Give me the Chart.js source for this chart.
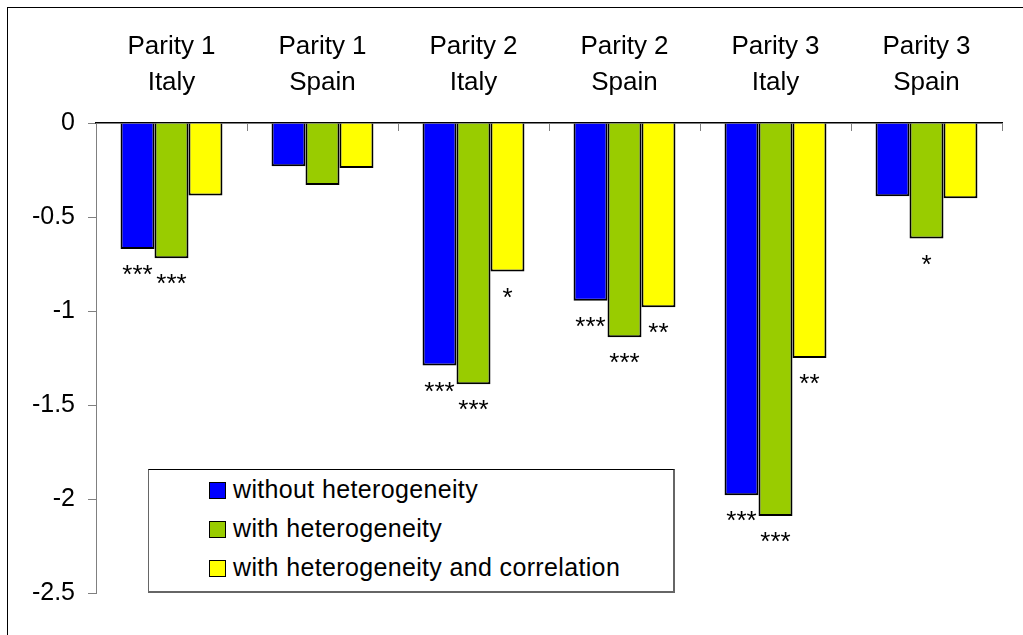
<!DOCTYPE html>
<html>
<head>
<meta charset="utf-8">
<script src="https://cdn.jsdelivr.net/npm/chart.js@4"></script>
<style>
    html, body { margin: 0; padding: 0; background: #fff; overflow: hidden; }
    body { width: 1023px; height: 635px; position: relative; font-family: "Liberation Sans", Arial, sans-serif; }
    .frame { position: absolute; left: 7px; top: 7px; width: 1100px; height: 700px; border-left: 1px solid #000; border-top: 1px solid #000; }
    #chart { position: absolute; left: 0; top: 0; }
    .legend-box { position: absolute; left: 148px; top: 469px; width: 524px; height: 121px; border: 1px solid #000; border-left-color: #666; border-bottom: 2px solid #666; border-right: 2px solid #666; background: #fff; }
    .legend-item { position: absolute; left: 60px; height: 24px; line-height: 24px; font-size: 25px; letter-spacing: 0.35px; color: #000; white-space: nowrap; }
    .legend-item span { display: inline-block; width: 15px; height: 15px; border: 1px solid #000; margin-right: 7px; vertical-align: -1px; }
</style>
</head>
<body>
<div class="frame"></div>
<canvas id="chart" width="1023" height="635"></canvas>
<div class="legend-box" id="legend"></div>

<script>
// Data
const categories = [['Parity 1', 'Italy'], ['Parity 1', 'Spain'], ['Parity 2', 'Italy'],
                    ['Parity 2', 'Spain'], ['Parity 3', 'Italy'], ['Parity 3', 'Spain']];
const seriesNames = ['without heterogeneity', 'with heterogeneity', 'with heterogeneity and correlation'];
const withoutHet = [-0.67, -0.23, -1.29, -0.945, -1.98, -0.39];
const withHet = [-0.72, -0.33, -1.39, -1.14, -2.09, -0.615];
const withHetCorr = [-0.385, -0.24, -0.79, -0.98, -1.25, -0.40];
const starsWithout = ['***', '', '***', '***', '***', ''];
const starsWith = ['***', '', '***', '***', '***', '*'];
const starsCorr = ['', '', '*', '**', '**', ''];
const yTicks = [0, -0.5, -1, -1.5, -2, -2.5];
const yTickLabels = ['0', '-0.5', '-1', '-1.5', '-2', '-2.5'];

const colors = ['#0000ff', '#99cc00', '#ffff00'];
const stars = [starsWithout, starsWith, starsCorr];
const FONT = '"Liberation Sans", Arial, sans-serif';

// Legend (inside the plot, bottom left)
const legend = document.getElementById('legend');
seriesNames.forEach((name, i) => {
    const item = document.createElement('div');
    item.className = 'legend-item';
    item.style.top = (7 + i * 39) + 'px';
    item.innerHTML = '<span style="background:' + colors[i] + '"></span>' + name;
    legend.appendChild(item);
});

// Significance stars under bars, plus small ticks between categories
const extrasPlugin = {
    id: 'extras',
    afterDatasetsDraw(chart) {
        const ctx = chart.ctx;
        ctx.save();
        ctx.font = '26px ' + FONT;
        ctx.fillStyle = '#000';
        ctx.textAlign = 'center';
        ctx.textBaseline = 'alphabetic';
        chart.data.datasets.forEach((ds, i) => {
            const meta = chart.getDatasetMeta(i);
            meta.data.forEach((bar, j) => {
                const s = stars[i][j];
                if (s) ctx.fillText(s, bar.x, bar.y + 34);
            });
        });

        const xs = chart.scales.x;
        const top = chart.chartArea.top;
        ctx.strokeStyle = '#808080';
        ctx.lineWidth = 1;
        for (let k = 0; k <= categories.length; k++) {
            const x = Math.round(xs.getPixelForValue(k - 0.5)) + 0.5;
            ctx.beginPath();
            ctx.moveTo(x, top);
            ctx.lineTo(x, top + 8);
            ctx.stroke();
        }
        ctx.restore();
    }
};

new Chart(document.getElementById('chart'), {
    type: 'bar',
    data: {
        labels: categories,
        datasets: [
            { label: seriesNames[0], data: withoutHet, backgroundColor: colors[0] },
            { label: seriesNames[1], data: withHet, backgroundColor: colors[1] },
            { label: seriesNames[2], data: withHetCorr, backgroundColor: colors[2] }
        ].map(d => Object.assign(d, {
            borderColor: '#000',
            borderWidth: 2,
            barPercentage: 1,
            categoryPercentage: 0.675
        }))
    },
    options: {
        responsive: false,
        animation: false,
        devicePixelRatio: 1,
        layout: { padding: { left: 10, right: 21, top: 0, bottom: 42 } },
        plugins: {
            legend: { display: false },
            tooltip: { enabled: false }
        },
        scales: {
            x: {
                position: 'top',
                offset: true,
                grid: { display: false, drawTicks: false },
                border: { display: true, color: '#000', width: 1.5 },
                ticks: {
                    color: '#000',
                    padding: 22,
                    maxRotation: 0,
                    font: { family: FONT, size: 26, lineHeight: 1.38 }
                },
                afterFit(scale) { scale.height = 123; }
            },
            y: {
                min: -2.5,
                max: 0,
                afterBuildTicks(scale) {
                    scale.ticks = yTicks.map(v => ({ value: v }));
                },
                grid: { drawOnChartArea: false, color: '#808080', tickLength: 8 },
                border: { display: true, color: '#808080', width: 1 },
                ticks: {
                    color: '#000',
                    padding: 13,
                    font: { family: FONT, size: 25 },
                    callback: (v) => yTickLabels[yTicks.indexOf(v)]
                },
                afterFit(scale) { scale.width = 86; }
            }
        }
    },
    plugins: [extrasPlugin]
});
</script>
</body>
</html>
